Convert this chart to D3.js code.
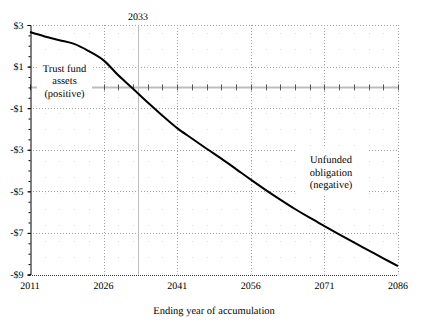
<!DOCTYPE html>
<html><head><meta charset="utf-8">
<script src="https://cdn.jsdelivr.net/npm/d3@7"></script>
<style>body{margin:0;background:#fff}svg{display:block}text{text-rendering:geometricPrecision}</style>
</head><body><svg id="c" width="432" height="327"></svg>
<script>
const years = [2011,2014,2017,2020,2023,2026,2029,2032,2035,2038,2041,2044,2047,2050,2053,2056,2059,2062,2065,2068,2071,2074,2077,2080,2083,2086];
const values = [2.66,2.45,2.27,2.09,1.74,1.30,0.58,-0.07,-0.73,-1.36,-1.96,-2.46,-2.95,-3.43,-3.93,-4.44,-4.93,-5.40,-5.85,-6.27,-6.67,-7.07,-7.46,-7.84,-8.22,-8.60];
const xTicks = [2011,2026,2041,2056,2071,2086];
const yTicks = [3,1,-1,-3,-5,-7,-9];
const yTickLabels = ["$3","$1","-$1","-$3","-$5","-$7","-$9"];
const markYear = 2033;
const posLabel = ["Trust fund","assets","(positive)"];
const negLabel = ["Unfunded","obligation","(negative)"];
const xTitle = "Ending year of accumulation";

const FONT = "'Liberation Serif'";
const svg = d3.select("#c");
const L=30,R=398,T=25,B=274.5;
const x = d3.scaleLinear().domain([2011,2086]).range([L,R]);
const y = d3.scaleLinear().domain([-9,3]).range([B,T]);

function txt(parent, px, py, s, size, anchor){
  return parent.append("text")
    .attr("transform",`translate(${px},${py}) scale(${size/12})`)
    .attr("text-anchor",anchor||"middle")
    .style("font-family",FONT).style("font-size","12px")
    .style("text-rendering","geometricPrecision").attr("fill","#000").text(s);
}

const minorYears = d3.range(2011,2087,3);
svg.append("g").selectAll("line").data(minorYears).join("line")
  .attr("x1",d=>Math.round(x(d))+0.5).attr("x2",d=>Math.round(x(d))+0.5).attr("y1",T+8).attr("y2",B)
  .attr("stroke","#d0e4e4").attr("stroke-width",1).attr("stroke-dasharray","1,15");

svg.append("g").selectAll("line").data(yTicks.slice(0,-1)).join("line")
  .attr("x1",L).attr("x2",R).attr("y1",d=>Math.round(y(d))+0.5).attr("y2",d=>Math.round(y(d))+0.5)
  .attr("stroke","#a0a0a0").attr("stroke-dasharray","1,2");
svg.append("g").selectAll("line").data(xTicks.slice(1)).join("line")
  .attr("x1",d=>Math.round(x(d))+0.5).attr("x2",d=>Math.round(x(d))+0.5).attr("y1",T).attr("y2",B)
  .attr("stroke","#a0a0a0").attr("stroke-dasharray","1,2");

svg.append("line").attr("x1",Math.round(x(markYear))+0.5).attr("x2",Math.round(x(markYear))+0.5)
  .attr("y1",T).attr("y2",B).attr("stroke","#bdbdbd").attr("stroke-width",1);
txt(svg, x(markYear), 20, markYear, 10);

svg.append("line").attr("x1",L).attr("x2",R).attr("y1",y(0)).attr("y2",y(0))
  .attr("stroke","#bdbdbd").attr("stroke-width",2);
svg.append("g").selectAll("line").data(minorYears).join("line")
  .attr("x1",d=>Math.round(x(d))+0.5).attr("x2",d=>Math.round(x(d))+0.5)
  .attr("y1",y(0)-3).attr("y2",y(0)+3).attr("stroke","#555").attr("stroke-width",1);

const ga = svg.append("g").attr("transform",`translate(${L+0.5},0)`)
  .call(d3.axisLeft(y).tickValues(yTicks).tickFormat("").tickSize(3));
ga.select(".domain").attr("stroke","#000");
const gm = svg.append("g").attr("transform",`translate(${L+0.5},0)`)
  .call(d3.axisLeft(y).tickValues(d3.range(-9,3.01,0.5)).tickSize(2).tickFormat(""));
gm.select(".domain").remove();
const gl = svg.append("g");
yTicks.forEach((v,i)=>txt(gl, 23.5, y(v)+3.5, yTickLabels[i], 10, "end"));

svg.append("line").attr("x1",L).attr("x2",R).attr("y1",Math.round(B)+0.5).attr("y2",Math.round(B)+0.5)
  .attr("stroke","#333").attr("stroke-dasharray","1,1");
const gx = svg.append("g");
xTicks.forEach(v=>txt(gx, x(v), 289, v, 10));
txt(svg, (L+R)/2, 314, xTitle, 10.5);

const line = d3.line().x((d,i)=>x(years[i])).y(d=>y(d)).curve(d3.curveCatmullRom.alpha(0.5));
svg.append("path").datum(values).attr("d",line).attr("fill","none").attr("stroke","#000").attr("stroke-width",2);

function box(lines,cx,top,bx0,bx1,by0,by1){
  svg.append("rect").attr("x",bx0).attr("y",by0).attr("width",bx1-bx0).attr("height",by1-by0).attr("fill","#fff");
  const g = svg.append("g");
  lines.forEach((s,i)=>txt(g, cx, top+i*12.5, s, 10.5));
}
box(posLabel,64.5,71.5,37,92,56,100);
box(negLabel,331,163,296,367,148,194);
</script></body></html>
